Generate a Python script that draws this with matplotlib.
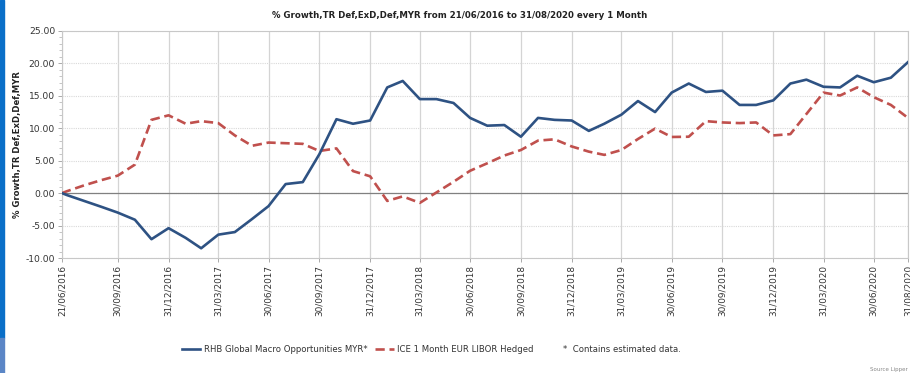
import datetime as dt

import matplotlib
matplotlib.use("Agg")
import matplotlib.pyplot as plt
from matplotlib.patches import Rectangle
from matplotlib.lines import Line2D

# month-end dates, first point is the start date
dates = ["2016-06-21", "2016-06-30", "2016-07-31", "2016-08-31", "2016-09-30",
         "2016-10-31", "2016-11-30", "2016-12-31", "2017-01-31", "2017-02-28",
         "2017-03-31", "2017-04-30", "2017-05-31", "2017-06-30", "2017-07-31",
         "2017-08-31", "2017-09-30", "2017-10-31", "2017-11-30", "2017-12-31",
         "2018-01-31", "2018-02-28", "2018-03-31", "2018-04-30", "2018-05-31",
         "2018-06-30", "2018-07-31", "2018-08-31", "2018-09-30", "2018-10-31",
         "2018-11-30", "2018-12-31", "2019-01-31", "2019-02-28", "2019-03-31",
         "2019-04-30", "2019-05-31", "2019-06-30", "2019-07-31", "2019-08-31",
         "2019-09-30", "2019-10-31", "2019-11-30", "2019-12-31", "2020-01-31",
         "2020-02-29", "2020-03-31", "2020-04-30", "2020-05-31", "2020-06-30",
         "2020-07-31", "2020-08-31"]

fund = [0.0, -0.3, -1.2, -2.1, -3.0,
        -4.1, -7.1, -5.4, -6.9, -8.5,
        -6.4, -6.0, -4.0, -2.0, 1.4,
        1.7, 6.0, 11.4, 10.7, 11.2,
        16.3, 17.3, 14.5, 14.5, 13.9,
        11.6, 10.4, 10.5, 8.7, 11.6,
        11.3, 11.2, 9.6, 10.7, 12.1,
        14.2, 12.5, 15.5, 16.9, 15.6,
        15.8, 13.6, 13.6, 14.3, 16.9,
        17.5, 16.4, 16.3, 18.1, 17.1,
        17.8, 20.2]

bench = [0.0, 0.3, 1.2, 2.0, 2.7,
         4.4, 11.3, 12.0, 10.7, 11.1,
         10.8, 8.9, 7.3, 7.8, 7.7,
         7.6, 6.5, 6.9, 3.4, 2.6,
         -1.2, -0.5, -1.5, 0.1, 1.75,
         3.45, 4.6, 5.8, 6.65, 8.1,
         8.3, 7.2, 6.4, 5.9, 6.65,
         8.35, 9.95, 8.66, 8.7, 11.1,
         10.9, 10.8, 10.9, 8.9, 9.1,
         12.2, 15.5, 15.05, 16.3, 14.8,
         13.6, 11.6]

tick_dates = ["2016-06-21", "2016-09-30", "2016-12-31", "2017-03-31", "2017-06-30",
              "2017-09-30", "2017-12-31", "2018-03-31", "2018-06-30", "2018-09-30",
              "2018-12-31", "2019-03-31", "2019-06-30", "2019-09-30", "2019-12-31",
              "2020-03-31", "2020-06-30", "2020-08-31"]

fund_name = "RHB Global Macro Opportunities MYR*"
bench_name = "ICE 1 Month EUR LIBOR Hedged"

x = [dt.datetime.strptime(d, "%Y-%m-%d") for d in dates]
xt = [dt.datetime.strptime(d, "%Y-%m-%d") for d in tick_dates]

blue = "#2e5283"
red = "#c0504d"

fig = plt.figure(figsize=(9.1, 3.73), dpi=100)
ax = fig.add_axes([62 / 910, 1 - 258 / 373, 846 / 910, 227 / 373])

ax.plot(x, fund, color=blue, lw=1.9, zorder=4)
ax.plot(x, bench, color=red, lw=1.9, ls=(0, (3.5, 1.8)), zorder=3)
ax.axhline(0, color="#808080", lw=0.9, zorder=2)

ax.set_xlim(x[0], x[-1])
ax.set_ylim(-10, 25)
ax.set_yticks(range(-10, 26, 5))
ax.set_yticks(range(-10, 26, 1), minor=True)
ax.set_yticklabels(["%.2f" % v for v in range(-10, 26, 5)])
ax.set_xticks(xt)
ax.set_xticklabels([d.strftime("%d/%m/%Y") for d in xt], rotation=90)

ax.grid(axis="x", color="#d4d4d4", lw=0.9)
ax.grid(axis="y", which="major", color="#d9d9d9", lw=0.8, ls=(0, (1, 1)))
ax.tick_params(axis="both", which="major", labelsize=6.6, labelcolor="#333333",
               color="#aaaaaa", length=3, width=0.7, pad=2)
ax.tick_params(axis="x", which="major", labelsize=6.4)
ax.tick_params(axis="y", which="minor", length=2, color="#bbbbbb", width=0.6)
for s in ax.spines.values():
    s.set_color("#c8c8c8")
    s.set_linewidth(0.8)

ax.set_ylabel("% Growth,TR Def,ExD,Def,MYR", fontsize=6.1, fontweight="bold",
              color="#222222")
ax.yaxis.set_label_coords(-40 / 846, 0.5)
fig.text(0.505, 1 - 15 / 373, "% Growth,TR Def,ExD,Def,MYR from 21/06/2016 to 31/08/2020 every 1 Month",
         ha="center", va="center", fontsize=6.2, fontweight="bold", color="#222222")

# legend below the chart
handles = [Line2D([], [], color=blue, lw=1.9),
           Line2D([], [], color=red, lw=1.9, ls=(0, (3.5, 1.8))),
           Line2D([], [], color="none")]
leg = fig.legend(handles, [fund_name, bench_name, "*  Contains estimated data."],
                 loc="center", bbox_to_anchor=(0.474, 1 - 349 / 373), ncol=3,
                 frameon=False, fontsize=6.1, handlelength=2.2, handletextpad=0.4,
                 columnspacing=0.9)
for t in leg.get_texts():
    t.set_color("#333333")

fig.text(0.997, 1 - 369 / 373, "Source Lipper", ha="right", va="center",
         fontsize=4, color="#888888")

# blue strip along the left edge
fig.patches.append(Rectangle((0, 35 / 373), 4 / 910, 1 - 35 / 373,
                             transform=fig.transFigure, color="#0a6fc8", zorder=0))
fig.patches.append(Rectangle((0, 0), 4 / 910, 35 / 373, transform=fig.transFigure,
                             color="#5b86c6", zorder=0))

fig.savefig("out.png", dpi=100)
